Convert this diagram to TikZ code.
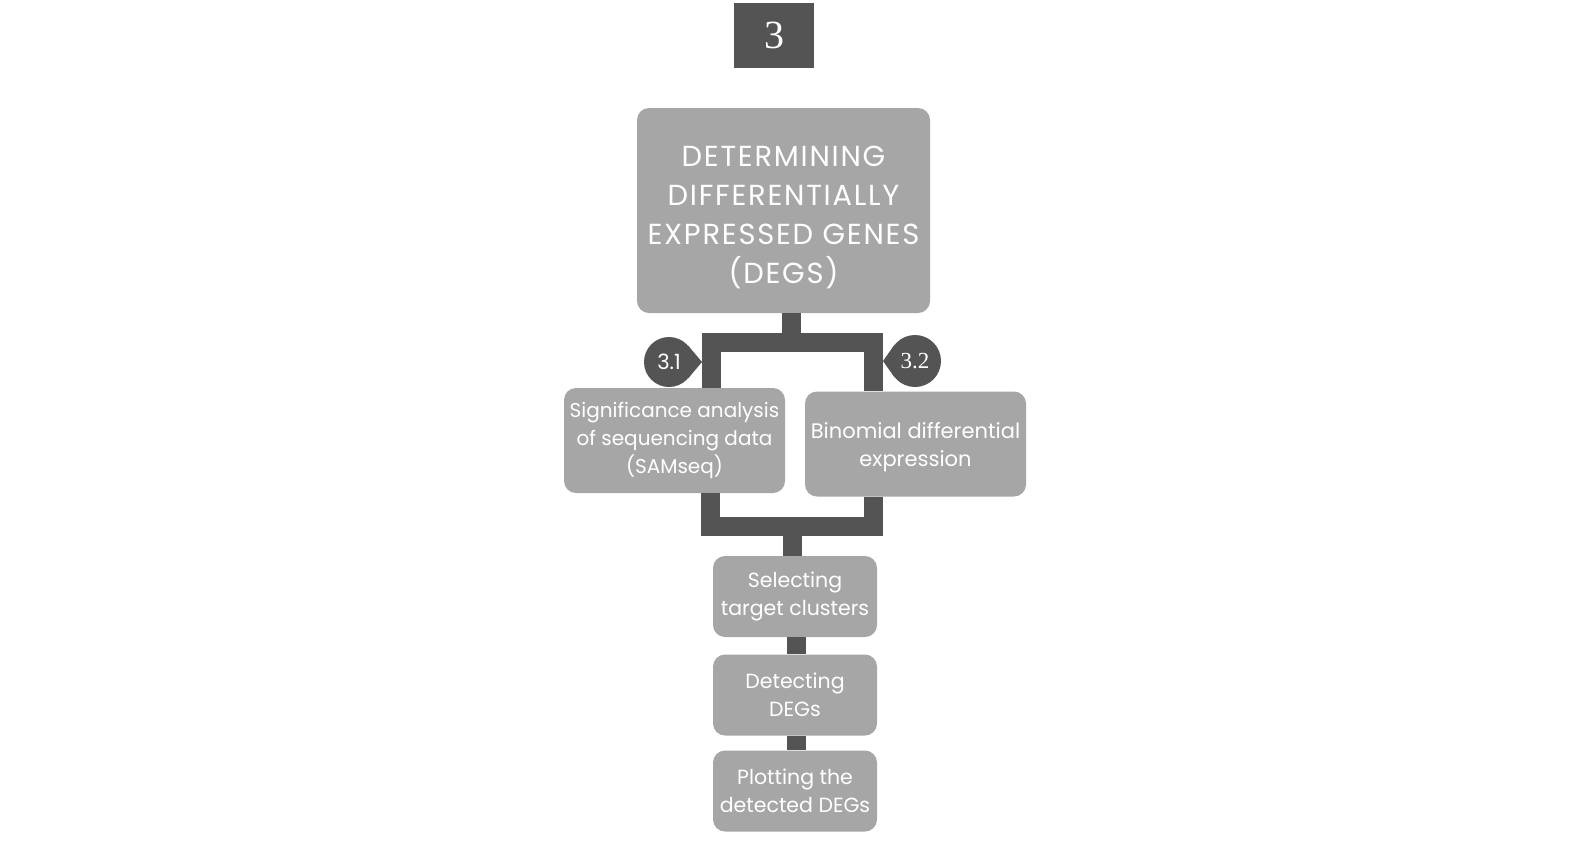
\documentclass[tikz,border=0pt]{standalone}
\usepackage{fontspec}
\setmainfont{Poppins}
\newfontfamily\wide[LetterSpace=6]{Poppins}
\newfontfamily\numfont{Liberation Serif}
\definecolor{boxgray}{HTML}{A6A6A6}
\definecolor{bargray}{HTML}{545454}
\begin{document}
\begin{tikzpicture}
  [
    x = 1pt, y = -1pt,
    stepbox/.style  = {fill=boxgray, rounded corners=12pt, text=white, align=center, inner sep=0pt},
    bigbox/.style   = {stepbox, minimum width=293pt, minimum height=205pt, font=\wide\fontsize{29}{39}\selectfont},
    midbox/.style   = {stepbox, minimum width=221pt, minimum height=105pt, font=\fontsize{20}{28}\selectfont},
    smallbox/.style = {stepbox, minimum width=164pt, minimum height=81pt, font=\fontsize{20.5}{28}\selectfont},
    badge/.style    = {circle, fill=bargray, text=white, minimum size=50pt, inner sep=0pt, font=\fontsize{21}{21}\selectfont},
    conn/.style     = {draw=bargray, line width=19pt}
  ]
 \useasboundingbox[fill=white] (0,0) rectangle (1588,844);
 \node[fill=bargray, text=white, minimum width=80pt, minimum height=65pt, inner sep=0pt,
       font=\numfont\fontsize{40}{40}\selectfont] (num) at (774,35.5) {3};
 \node[bigbox] (main) at (783.5,210.5) {\rule{0pt}{34pt}DETERMINING\\DIFFERENTIALLY\\EXPRESSED GENES\\(DEGS)};
 \node[midbox] (sam) at (674.5,440.5) {Significance analysis\\of sequencing data\\(SAMseq)};
 \node[midbox, font=\fontsize{21}{28}\selectfont] (binom) at (915.5,444) {\rule{0pt}{23pt}Binomial differential\\expression};
 \node[smallbox] (select) at (795,596.5) {Selecting\\target clusters};
 \node[smallbox] (detect) at (795,695) {Detecting\\DEGs};
 \node[smallbox] (plot) at (795,791) {Plotting the\\detected DEGs};
 % branch junctions
 \coordinate (tl) at (711,342.5);
 \coordinate (tr) at (873.5,342.5);
 \coordinate (tm) at (791.5,342.5);
 \coordinate (bl) at (710.5,526.5);
 \coordinate (br) at (873,526.5);
 \coordinate (bm) at (792.5,526.5);
 \coordinate (lm) at (796.5,0);
 \draw[conn, line cap=rect] (tl) -- (tr);
 \draw[conn] (main.south -| tm) -- (tm);
 \draw[conn] (tl) -- (tl |- sam.north);
 \draw[conn] (tr) -- (tr |- binom.north);
 \draw[conn, line cap=rect] (bl) -- (br);
 \draw[conn] (bl |- sam.south) -- (bl);
 \draw[conn] (br |- binom.south) -- (br);
 \draw[conn] (bm) -- (bm |- select.north);
 \draw[conn] (select.south -| lm) -- (detect.north -| lm);
 \draw[conn] (detect.south -| lm) -- (plot.north -| lm);
 % badges
 \node[badge] (b31) at (669,362) {3.1};
 \coordinate (t31) at (702,362);
 \fill[bargray] (b31.41) -- (t31) -- (b31.-41) -- cycle;
 \node[badge, minimum size=52pt, font=\numfont\fontsize{23}{23}\selectfont] (b32) at (915,361) {3.2};
 \coordinate (t32) at (883,361);
 \fill[bargray] (b32.141) -- (t32) -- (b32.219) -- cycle;
\end{tikzpicture}
\end{document}
